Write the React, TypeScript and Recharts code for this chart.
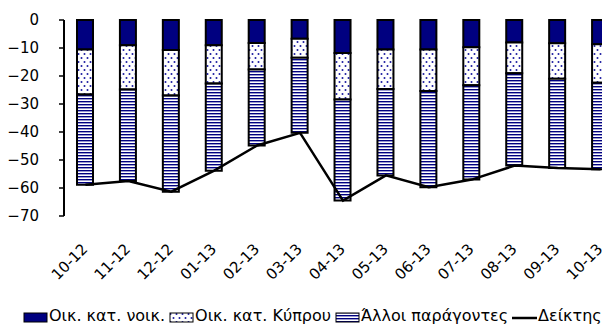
import { ComposedChart, Bar, Line, XAxis, YAxis, Legend } from 'recharts'

const months = ['10-12', '11-12', '12-12', '01-13', '02-13', '03-13', '04-13', '05-13', '06-13', '07-13', '08-13', '09-13', '10-13']
const rentals = [-10.5, -9.0, -10.7, -9.0, -8.2, -6.7, -11.8, -10.5, -10.5, -9.7, -8.0, -8.3, -8.7]
const cyprus = [-16.1, -15.8, -16.3, -13.7, -9.5, -6.8, -16.6, -14.1, -14.9, -13.6, -11.0, -12.7, -13.7]
const other = [-32.2, -32.7, -34.3, -31.1, -27.1, -26.8, -36.1, -30.9, -34.3, -33.7, -33.0, -31.9, -30.9]
const indexValues = [-58.8, -57.5, -61.3, -53.8, -44.8, -40.3, -64.5, -55.5, -59.7, -57.0, -52.0, -52.9, -53.3]
const yTicks = [0, -10, -20, -30, -40, -50, -60, -70]

const names = ['Οικ. κατ. νοικ.', 'Οικ. κατ. Κύπρου', 'Άλλοι παράγοντες', 'Δείκτης']

const data = months.map((m, i) => ({
  month: m,
  rentals: rentals[i],
  cyprus: cyprus[i],
  other: other[i],
  index: indexValues[i],
}))

const FONT = '"DejaVu Sans", Verdana, sans-serif'
const NAVY = '#000080'
const W = 620
const Y_W = 56
const M_RIGHT = 6
const PLOT_TOP = 12
const BAND = (W - Y_W - M_RIGHT) / months.length

function Patterns() {
  return (
    <defs>
      <pattern id="dots" width="6" height="8" patternUnits="userSpaceOnUse">
        <rect width="6" height="8" fill="#fff" />
        <circle cx="1.5" cy="2" r="1" fill="#1a1aa0" />
        <circle cx="4.5" cy="6" r="1" fill="#1a1aa0" />
      </pattern>
      <pattern id="stripes" width="6" height="3" patternUnits="userSpaceOnUse">
        <rect width="6" height="3" fill="#fff" />
        <rect y="0" width="6" height="1.3" fill={NAVY} />
        <rect y="1.3" width="6" height="0.7" fill="#9090c8" />
      </pattern>
    </defs>
  )
}

function BottomTick({ x, y, payload }: any) {
  const ax = x + 3
  return (
    <text
      x={ax}
      y={y}
      transform={`rotate(-45, ${ax}, ${y})`}
      textAnchor="end"
      fontSize={15}
      fontFamily={FONT}
      fill="#000"
    >
      {payload.value}
    </text>
  )
}

function TopTick({ x, index }: any) {
  if (index >= months.length - 1) return <g />
  const bx = x + BAND / 2
  return <line x1={bx} x2={bx} y1={PLOT_TOP} y2={PLOT_TOP + 5} stroke="#000" strokeWidth={1.5} />
}

function LeftTick({ x, y, payload }: any) {
  const v = payload.value
  return (
    <text x={x - 18} y={y} dy={5} textAnchor="end" fontSize={15} fontFamily={FONT} fill="#000">
      {v < 0 ? `−${Math.abs(v)}` : `${v}`}
    </text>
  )
}

function LegendContent() {
  const keys = [
    <rect key="a" x={1} y={1} width={23} height={9} fill={NAVY} stroke="#000" strokeWidth={1} />,
    <rect key="b" x={1} y={1} width={23} height={9} fill="url(#dots)" stroke="#000" strokeWidth={1} />,
    <rect key="c" x={1} y={1} width={23} height={9} fill="url(#stripes)" stroke="#000" strokeWidth={1} />,
    <line key="d" x1={0} x2={25} y1={6} y2={6} stroke="#000" strokeWidth={2.5} />,
  ]
  return (
    <div style={{ display: 'flex', justifyContent: 'flex-start', paddingLeft: 15, fontFamily: FONT, fontSize: 16, whiteSpace: 'nowrap', paddingTop: 6 }}>
      {names.map((n, i) => (
        <span key={n} style={{ display: 'flex', alignItems: 'center', marginRight: 4 }}>
          <svg width={25} height={11} style={{ marginRight: 1, marginTop: 3 }}>
            <Patterns />
            {keys[i]}
          </svg>
          {n}
        </span>
      ))}
    </div>
  )
}

export default function App() {
  return (
    <div style={{ width: 602, overflow: 'hidden' }}>
      <ComposedChart
        width={W}
        height={316}
        data={data}
        margin={{ top: PLOT_TOP, right: M_RIGHT, left: 0, bottom: 0 }}
        barCategoryGap={0}
      >
        <Patterns />
        <XAxis
          dataKey="month"
          xAxisId="bottom"
          axisLine={false}
          tickLine={false}
          height={84}
          interval={0}
          tick={<BottomTick />}
          tickSize={0}
          tickMargin={34}
        />
        <XAxis
          dataKey="month"
          xAxisId="top"
          orientation="top"
          height={0}
          interval={0}
          axisLine={{ stroke: '#000', strokeWidth: 2 }}
          tickLine={false}
          tick={<TopTick />}
        />
        <YAxis
          width={Y_W}
          domain={[-70, 0]}
          ticks={yTicks}
          interval={0}
          axisLine={{ stroke: '#000', strokeWidth: 2 }}
          tickLine={{ stroke: '#000', strokeWidth: 1.5 }}
          tickSize={5}
          tick={<LeftTick />}
        />
        <Bar xAxisId="bottom" dataKey="rentals" name={names[0]} stackId="s" fill={NAVY} stroke="#000" strokeWidth={2} barSize={16} isAnimationActive={false} />
        <Bar xAxisId="bottom" dataKey="cyprus" name={names[1]} stackId="s" fill="url(#dots)" stroke="#000" strokeWidth={2} barSize={16} isAnimationActive={false} />
        <Bar xAxisId="bottom" dataKey="other" name={names[2]} stackId="s" fill="url(#stripes)" stroke="#000" strokeWidth={2} barSize={16} isAnimationActive={false} />
        <Line xAxisId="bottom" dataKey="index" name={names[3]} type="linear" stroke="#000" strokeWidth={2.5} dot={false} isAnimationActive={false} />
        <Legend verticalAlign="bottom" height={24} content={<LegendContent />} />
      </ComposedChart>
    </div>
  )
}
